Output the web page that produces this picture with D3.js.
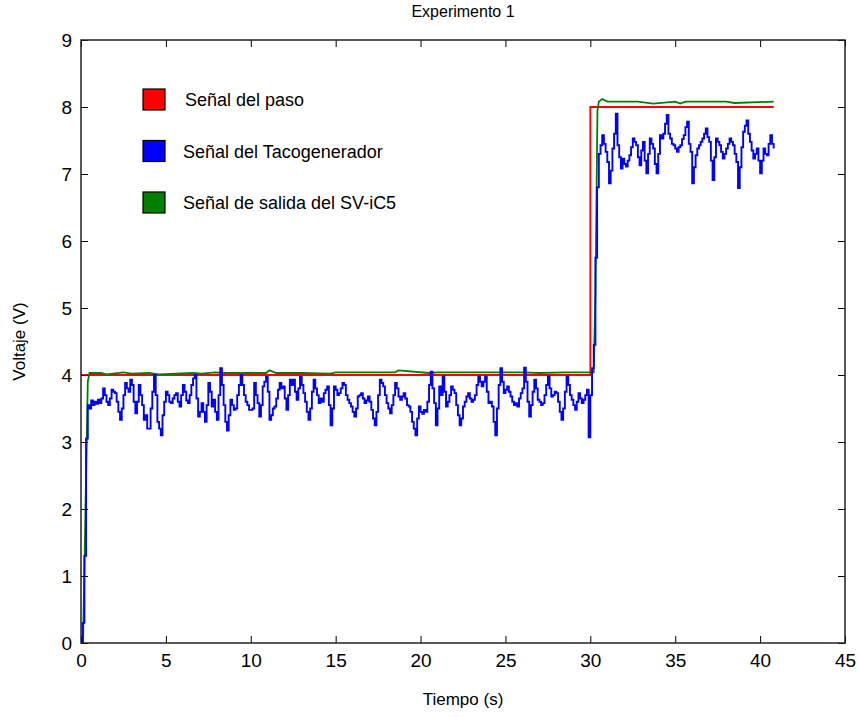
<!DOCTYPE html>
<html>
<head>
<meta charset="utf-8">
<script src="https://cdn.jsdelivr.net/npm/d3@7"></script>
<style>
  body { margin: 0; background: #fff; }
  svg text { font-family: "Liberation Sans", Arial, sans-serif; fill: #000; }
</style>
</head>
<body>
<div id="chart"></div>
<script>
// ---- data ----
var xTicks = [0, 5, 10, 15, 20, 25, 30, 35, 40, 45];
var yTicks = [0, 1, 2, 3, 4, 5, 6, 7, 8, 9];

// step input (red)
var stepT = [0, 30, 40.8];
var stepV = [4, 8, 8];

// SV-iC5 output (green)
var outT = [0, 0.12, 0.4, 0.5, 1.2, 1.5, 2.5, 3.0, 4.0, 4.6, 6.6, 7.1, 7.9, 8.3, 10.9, 11.1, 11.5,
            13.0, 14.7, 15.0, 18.5, 18.7, 20.5, 21.0, 26.0, 27.0, 28.5, 30.2, 30.3, 30.42, 30.5,
            30.7, 31.0, 32.8, 33.7, 35.0, 35.3, 35.6, 37.0, 38.0, 38.5, 40.8];
var outV = [0, 0, 3.9, 4.03, 4.03, 4.01, 4.04, 4.02, 4.03, 4.01, 4.03, 4.02, 4.04, 4.03, 4.03, 4.07, 4.03,
            4.03, 4.02, 4.04, 4.04, 4.07, 4.03, 4.04, 4.04, 4.03, 4.04, 4.04, 5.2, 7.95, 8.08,
            8.12, 8.08, 8.08, 8.05, 8.08, 8.05, 8.08, 8.08, 8.08, 8.06, 8.08];

// tachogenerator (blue), one sample every 0.1 s starting at t = 0
var tachoStep = 0.1;
var tachoV = [
  0, 0.3, 1.3, 3.05, 3.55, 3.5, 3.62, 3.55, 3.6, 3.57,
  3.63, 3.58, 3.65, 3.8, 3.7, 3.6, 3.55, 3.65, 3.78, 3.75,
  3.73, 3.6, 3.45, 3.33, 3.5, 3.7, 3.88, 3.8, 3.75, 3.93,
  3.85, 3.6, 3.43, 3.6, 3.85, 3.7, 3.55, 3.33, 3.4, 3.2,
  3.2, 3.5, 3.75, 4.0, 3.7, 3.3, 3.2, 3.1, 3.4, 3.6,
  3.75, 3.7, 3.6, 3.58, 3.65, 3.7, 3.73, 3.6, 3.53, 3.7,
  3.85, 3.75, 3.62, 3.58, 3.7, 3.85, 3.95, 4.0, 3.65, 3.38,
  3.45, 3.58, 3.45, 3.3, 3.55, 3.88, 3.75, 3.53, 3.63, 3.45,
  3.33, 3.7, 4.1, 3.85, 3.55, 3.3, 3.17, 3.4, 3.63, 3.55,
  3.48, 3.5, 3.7, 3.85, 4.0, 3.85, 3.7, 3.6, 3.55, 3.48,
  3.48, 3.5, 3.88, 3.7, 3.58, 3.38, 3.55, 3.83, 3.9, 3.97,
  3.75, 3.33, 3.4, 3.5, 3.53, 3.65, 3.78, 3.88, 3.8, 3.83,
  3.65, 3.48, 3.7, 3.93, 3.85, 3.93, 3.75, 3.63, 3.8, 3.97,
  3.85, 3.73, 3.6, 3.45, 3.33, 3.5, 3.75, 3.93, 3.8, 3.7,
  3.58, 3.65, 3.6, 3.73, 3.78, 3.83, 3.55, 3.25, 3.5, 3.83,
  3.78, 3.7, 3.73, 3.8, 3.88, 3.85, 3.7, 3.63, 3.58, 3.53,
  3.45, 3.38, 3.5, 3.68, 3.7, 3.73, 3.65, 3.58, 3.62, 3.68,
  3.6, 3.48, 3.35, 3.25, 3.45, 3.7, 3.93, 3.88, 3.83, 3.7,
  3.58, 3.5, 3.43, 3.55, 3.7, 3.88, 3.8, 3.68, 3.63, 3.68,
  3.73, 3.65, 3.55, 3.53, 3.45, 3.3, 3.2, 3.1, 3.35, 3.53,
  3.45, 3.42, 3.48, 3.45, 3.6, 3.85, 4.05, 3.8, 3.58, 3.25,
  3.5, 3.83, 3.7, 3.98, 3.75, 3.53, 3.6, 3.7, 3.83, 3.78,
  3.73, 3.55, 3.4, 3.25, 3.35, 3.53, 3.6, 3.68, 3.73, 3.65,
  3.6, 3.63, 3.7, 3.85, 3.98, 3.9, 3.83, 3.9, 3.98, 3.75,
  3.58, 3.6, 3.53, 3.3, 3.1, 3.5, 3.85, 4.1, 3.9, 3.73,
  3.78, 3.83, 3.75, 3.68, 3.6, 3.55, 3.58, 3.53, 3.65, 3.73,
  3.8, 4.11, 3.9, 3.6, 3.38, 3.55, 3.75, 3.93, 3.8, 3.63,
  3.6, 3.55, 3.58, 3.7, 3.85, 3.98, 3.8, 3.68, 3.7, 3.75,
  3.73, 3.6, 3.45, 3.33, 3.5, 3.75, 3.98, 3.85, 3.7, 3.63,
  3.55, 3.48, 3.6, 3.73, 3.65, 3.58, 3.63, 3.7, 3.78, 3.07,
  3.7, 4.1, 4.45, 5.75, 6.8, 7.3, 7.43, 7.58, 7.45, 7.33,
  7.18, 6.86, 7.05, 7.38, 7.6, 7.9, 7.43, 7.25, 7.08, 7.23,
  7.15, 7.11, 7.2, 7.28, 7.4, 7.53, 7.48, 7.43, 7.25, 7.13,
  7.35, 7.48, 7.2, 7.01, 7.3, 7.53, 7.45, 7.38, 7.15, 7.01,
  7.3, 7.58, 7.53, 7.6, 7.75, 7.88, 7.6, 7.53, 7.45, 7.43,
  7.38, 7.33, 7.4, 7.43, 7.52, 7.58, 7.7, 7.78, 7.45, 7.33,
  6.86, 7.1, 7.28, 7.38, 7.43, 7.48, 7.53, 7.6, 7.68, 7.55,
  7.48, 7.2, 6.91, 7.25, 7.53, 7.48, 7.43, 7.33, 7.23, 7.3,
  7.38, 7.45, 7.53, 7.48, 7.43, 7.3, 7.18, 6.79, 7.1, 7.4,
  7.63, 7.72, 7.8, 7.6, 7.48, 7.35, 7.23, 7.3, 7.38, 7.2,
  7.01, 7.2, 7.38, 7.3, 7.28, 7.45, 7.58, 7.45, 7.38
];

var legendNames = ["Señal del paso", "Señal del Tacogenerador", "Señal de salida del SV-iC5"];
var legendColors = ["#ff0000", "#0000ff", "#008000"];

// ---- layout ----
var W = 859, H = 717;
var margin = {top: 40, right: 14, bottom: 74, left: 81},
    width = W - margin.left - margin.right,
    height = H - margin.top - margin.bottom;

var svg = d3.select("#chart")
    .append("svg")
    .attr("width", W)
    .attr("height", H)
    .append("g")
    .attr("transform", "translate(" + margin.left + "," + margin.top + ")");

var x = d3.scaleLinear().domain([0, 45]).range([0, width]);
var y = d3.scaleLinear().domain([0, 9]).range([height, 0]);

// lines
var stepData = stepT.map(function (t, i) { return [t, stepV[i]]; });
var outData = outT.map(function (t, i) { return [t, outV[i]]; });
var tachoData = tachoV.map(function (v, i) { return [i * tachoStep, v]; });

var line = d3.line()
    .x(function (d) { return x(d[0]); })
    .y(function (d) { return y(d[1]); });

svg.append("path")
    .datum(stepData)
    .attr("fill", "none")
    .attr("stroke", "#ff0000")
    .attr("stroke-width", 1.8)
    .attr("d", line.curve(d3.curveStepAfter));

svg.append("path")
    .datum(outData)
    .attr("fill", "none")
    .attr("stroke", "#008000")
    .attr("stroke-width", 1.8)
    .attr("d", line.curve(d3.curveLinear));

svg.append("path")
    .datum(tachoData)
    .attr("fill", "none")
    .attr("stroke", "#0000ff")
    .attr("stroke-width", 1.9)
    .attr("d", line.curve(d3.curveStepAfter));

// axes (inward ticks, box all round)
function styleAxis(g) {
    g.selectAll("path.domain").remove();
    g.selectAll("line").attr("stroke", "#000").attr("stroke-width", 1);
    g.selectAll("text").style("font-size", "19px").attr("fill", "#000");
}

svg.append("g")
    .attr("transform", "translate(0," + height + ")")
    .call(d3.axisBottom(x).tickValues(xTicks).tickSize(-7).tickPadding(11))
    .call(styleAxis);

svg.append("g")
    .call(d3.axisLeft(y).tickValues(yTicks).tickSize(-7).tickPadding(9))
    .call(styleAxis);

svg.append("g")
    .call(d3.axisTop(x).tickValues(xTicks).tickSize(-7).tickFormat(""))
    .call(styleAxis);

svg.append("g")
    .attr("transform", "translate(" + width + ",0)")
    .call(d3.axisRight(y).tickValues(yTicks).tickSize(-7).tickFormat(""))
    .call(styleAxis);

svg.append("rect")
    .attr("x", 0)
    .attr("y", 0)
    .attr("width", width)
    .attr("height", height)
    .attr("fill", "none")
    .attr("stroke", "#222")
    .attr("stroke-width", 1.5);

// legend
var legend = svg.selectAll(".leg")
    .data(legendNames)
    .enter()
    .append("g")
    .attr("transform", function (d, i) { return "translate(62," + (49 + i * 51.5) + ")"; });

legend.append("rect")
    .attr("x", 0)
    .attr("y", 0)
    .attr("width", 22)
    .attr("height", 21)
    .attr("fill", function (d, i) { return legendColors[i]; })
    .attr("stroke", "#000")
    .attr("stroke-width", 1.2);

legend.append("text")
    .attr("x", function (d, i) { return i === 0 ? 42 : 40; })
    .attr("y", 11)
    .attr("dy", "0.35em")
    .style("font-size", "18px")
    .text(function (d) { return d; });

// titles
svg.append("text")
    .attr("x", width / 2)
    .attr("y", -23)
    .attr("text-anchor", "middle")
    .style("font-size", "16px")
    .text("Experimento 1");

svg.append("text")
    .attr("x", width / 2)
    .attr("y", height + 62)
    .attr("text-anchor", "middle")
    .style("font-size", "17px")
    .text("Tiempo (s)");

svg.append("text")
    .attr("transform", "rotate(-90)")
    .attr("x", -height / 2)
    .attr("y", -56)
    .attr("text-anchor", "middle")
    .style("font-size", "17px")
    .text("Voltaje (V)");
</script>
</body>
</html>
